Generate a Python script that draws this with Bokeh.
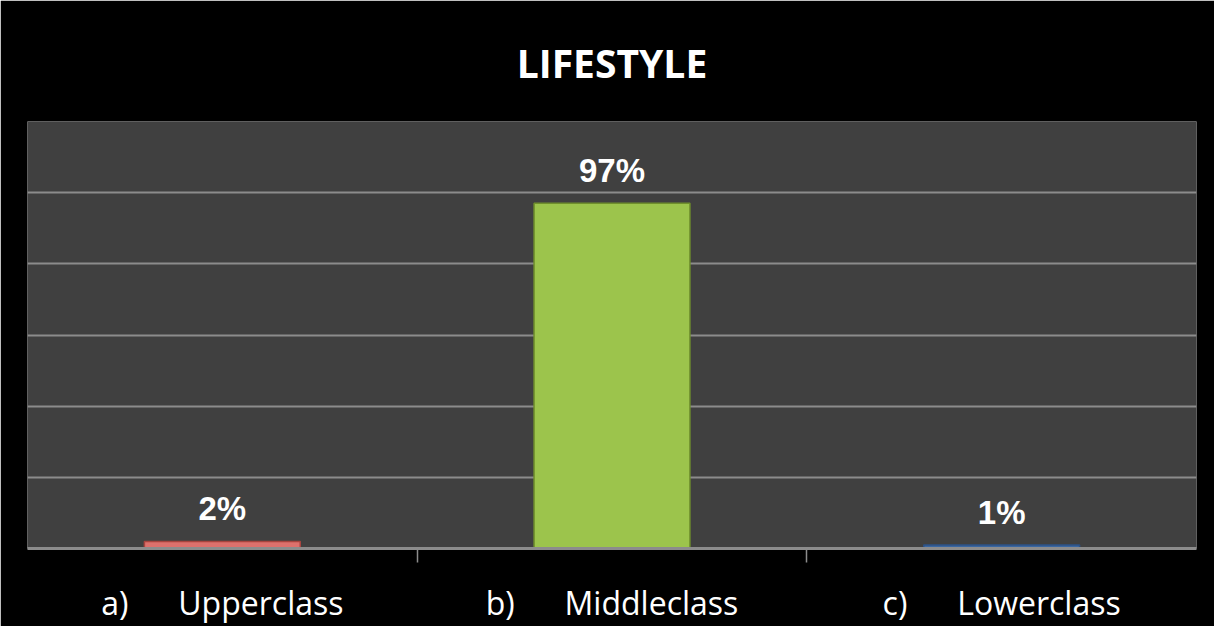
from bokeh.plotting import figure
from bokeh.models import Range1d, FixedTicker, ColumnDataSource, LabelSet
from bokeh.core.properties import value
from bokeh.embed import file_html
from bokeh.resources import INLINE

# ---- data ----
title_text = "LIFESTYLE"
letters = ["a)", "b)", "c)"]
categories = ["Upperclass", "Middleclass", "Lowerclass"]
values = [2, 97, 1]
bar_colors = ["#dd716d", "#9cc44c", "#3a66a0"]
bar_line_colors = ["#a8443f", "#6f8f2c", "#2c5185"]
grid_ticks = [0, 20, 40, 60, 80, 100, 120]

xs = [i + 0.5 for i in range(len(categories))]
labels = [f"{v}%" for v in values]
nb = "\u00a0" * 6
cat_labels = {x: f"{l}{nb}{c}" for x, l, c in zip(xs, letters, categories)}

src = ColumnDataSource(dict(x=xs, top=values, color=bar_colors,
                            line=bar_line_colors, label=labels))

p = figure(width=1214, height=626, output_backend="svg", toolbar_location=None,
           x_range=Range1d(0, len(categories)), y_range=Range1d(0, 120),
           background_fill_color="#404040", border_fill_color="black",
           outline_line_color=None,
           min_border_left=27, min_border_right=18,
           min_border_top=114, min_border_bottom=76)

p.title.text = title_text
p.title.align = "center"
p.title.text_font = "Open Sans"
p.title.text_font_style = "bold"
p.title.text_font_size = "39px"
p.title.text_color = "white"
p.title.text_line_height = 0.7
p.title.standoff = 66

p.vbar(x="x", top="top", bottom=0, width=0.4, source=src,
       fill_color="color", line_color="line", line_width=1.5)

p.add_layout(LabelSet(x="x", y="top", text="label", source=src,
                      text_align="center", text_baseline="bottom",
                      y_offset=14, text_color="white",
                      text_font=value("Liberation Sans"),
                      text_font_style="bold",
                      text_font_size=value("33px")))

# grid
p.xgrid.visible = False
p.ygrid.ticker = FixedTicker(ticks=grid_ticks)
p.ygrid.grid_line_color = "#8c8c8c"
p.ygrid.grid_line_width = 2
p.yaxis.visible = False

# x axis
ax = p.xaxis[0]
ax.ticker = FixedTicker(ticks=xs, minor_ticks=[1, 2])
ax.major_label_overrides = cat_labels
ax.major_tick_line_color = None
ax.major_tick_out = 0
ax.major_tick_in = 0
ax.minor_tick_out = 14
ax.minor_tick_in = 0
ax.minor_tick_line_color = "#8c8c8c"
ax.minor_tick_line_width = 1.5
ax.axis_line_color = "#8c8c8c"
ax.axis_line_width = 3
ax.major_label_standoff = 18
ax.major_label_text_color = "white"
ax.major_label_text_font = "Open Sans"
ax.major_label_text_font_size = "32px"

open("out.html", "w").write(file_html(p, INLINE))
